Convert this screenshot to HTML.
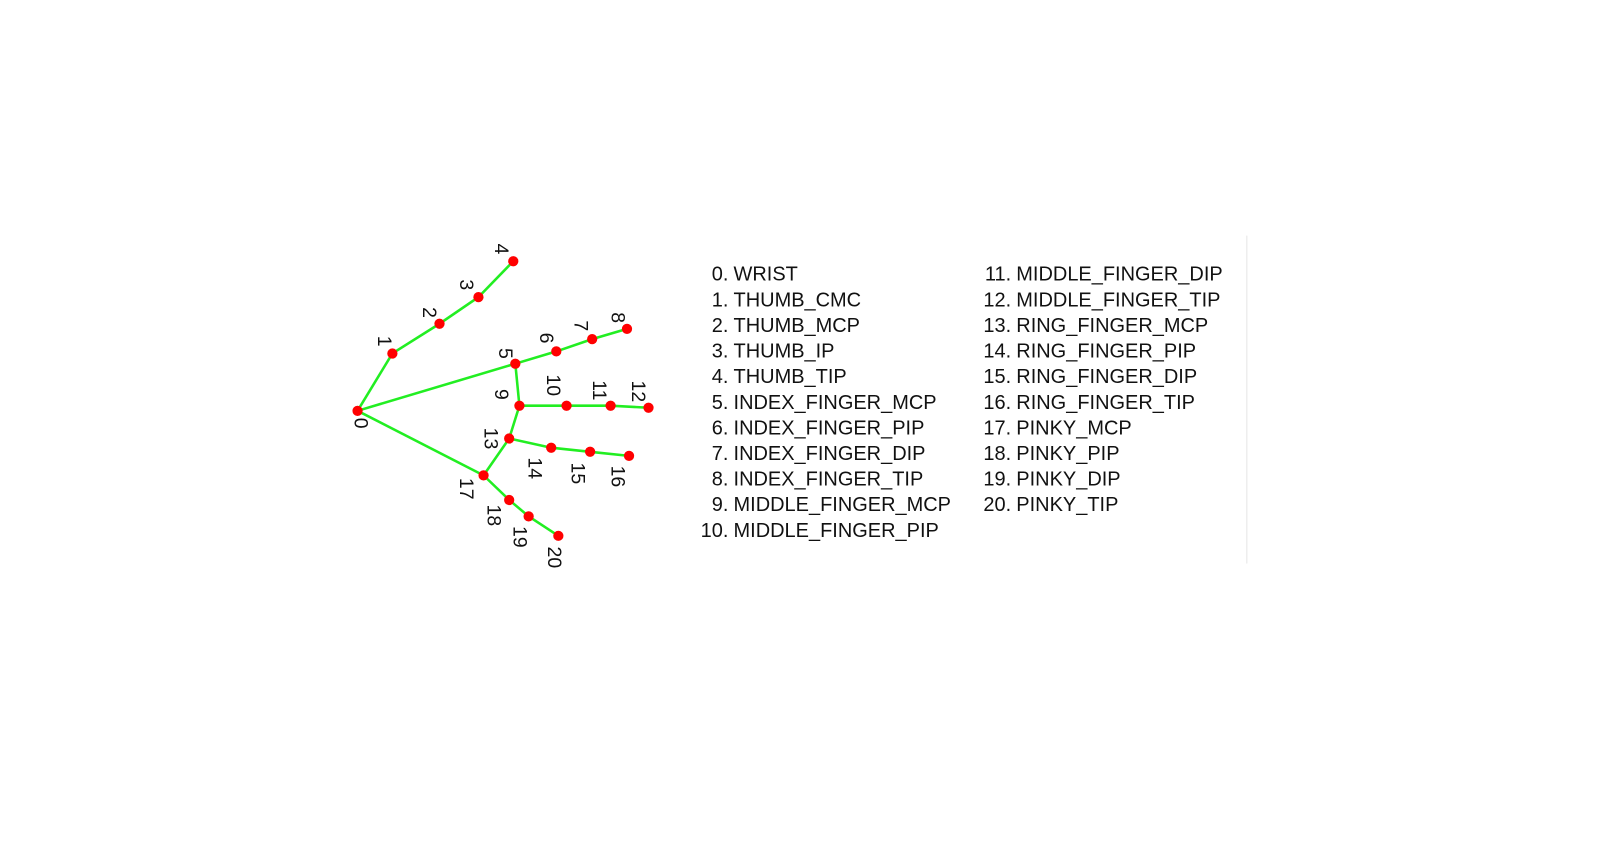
<!DOCTYPE html>
<html><head><meta charset="utf-8"><style>
html,body{margin:0;padding:0;background:#fff;width:1599px;height:851px;overflow:hidden}
svg{position:absolute;left:0;top:0}
</style></head><body>
<svg width="1599" height="851" xmlns="http://www.w3.org/2000/svg">
<g transform="scale(1.0245)">
<line x1="1217" y1="230" x2="1217" y2="550" stroke="#e6e6e6" stroke-width="1"/>
<g stroke="#22ee22" stroke-width="2.5" fill="none">
<polyline points="349,401 383,345 429,316 467,290 501,255"/>
<polyline points="349,401 503,355 543,343 578,331 612,321"/>
<polyline points="503,355 507,396 553,396 596,396 633,398"/>
<polyline points="507,396 497,428 538,437 576,441 614,445"/>
<polyline points="497,428 472,464 497,488 516,504 545,523"/>
<line x1="349" y1="401" x2="472" y2="464"/>
</g>
<g fill="#ff0000">
<circle cx="349" cy="401" r="5"/><circle cx="383" cy="345" r="5"/><circle cx="429" cy="316" r="5"/><circle cx="467" cy="290" r="5"/><circle cx="501" cy="255" r="5"/>
<circle cx="503" cy="355" r="5"/><circle cx="543" cy="343" r="5"/><circle cx="578" cy="331" r="5"/><circle cx="612" cy="321" r="5"/>
<circle cx="507" cy="396" r="5"/><circle cx="553" cy="396" r="5"/><circle cx="596" cy="396" r="5"/><circle cx="633" cy="398" r="5"/>
<circle cx="497" cy="428" r="5"/><circle cx="538" cy="437" r="5"/><circle cx="576" cy="441" r="5"/><circle cx="614" cy="445" r="5"/>
<circle cx="472" cy="464" r="5"/><circle cx="497" cy="488" r="5"/><circle cx="516" cy="504" r="5"/><circle cx="545" cy="523" r="5"/>
</g>
<g font-family="Liberation Sans, sans-serif" font-size="19" fill="#111" text-anchor="middle">
<text transform="translate(490,243) rotate(90)" dy="7">4</text>
<text transform="translate(456,278) rotate(90)" dy="7">3</text>
<text transform="translate(420,305) rotate(90)" dy="7">2</text>
<text transform="translate(376,333) rotate(90)" dy="7">1</text>
<text transform="translate(353,413) rotate(90)" dy="7">0</text>
<text transform="translate(494,345) rotate(90)" dy="7">5</text>
<text transform="translate(534,330) rotate(90)" dy="7">6</text>
<text transform="translate(568,318) rotate(90)" dy="7">7</text>
<text transform="translate(604,310) rotate(90)" dy="7">8</text>
<text transform="translate(490,385) rotate(90)" dy="7">9</text>
<text transform="translate(541,376) rotate(90)" dy="7">10</text>
<text transform="translate(586,381) rotate(90)" dy="7">11</text>
<text transform="translate(624,382) rotate(90)" dy="7">12</text>
<text transform="translate(480,428) rotate(90)" dy="7">13</text>
<text transform="translate(523,457) rotate(90)" dy="7">14</text>
<text transform="translate(565,462) rotate(90)" dy="7">15</text>
<text transform="translate(604,465) rotate(90)" dy="7">16</text>
<text transform="translate(456,477) rotate(90)" dy="7">17</text>
<text transform="translate(483,503) rotate(90)" dy="7">18</text>
<text transform="translate(508,524) rotate(90)" dy="7">19</text>
<text transform="translate(542,544) rotate(90)" dy="7">20</text>
</g>
<g font-family="Liberation Sans, sans-serif" font-size="19.5" fill="#111" transform="translate(-7,-1)">
<g text-anchor="end">
<text x="718" y="275">0.</text><text x="718" y="300">1.</text><text x="718" y="325">2.</text><text x="718" y="350">3.</text><text x="718" y="375">4.</text><text x="718" y="400">5.</text><text x="718" y="425">6.</text><text x="718" y="450">7.</text><text x="718" y="475">8.</text><text x="718" y="500">9.</text><text x="718" y="525">10.</text>
<text x="994" y="275">11.</text><text x="994" y="300">12.</text><text x="994" y="325">13.</text><text x="994" y="350">14.</text><text x="994" y="375">15.</text><text x="994" y="400">16.</text><text x="994" y="425">17.</text><text x="994" y="450">18.</text><text x="994" y="475">19.</text><text x="994" y="500">20.</text>
</g>
<g>
<text x="723" y="275">WRIST</text><text x="723" y="300">THUMB_CMC</text><text x="723" y="325">THUMB_MCP</text><text x="723" y="350">THUMB_IP</text><text x="723" y="375">THUMB_TIP</text><text x="723" y="400">INDEX_FINGER_MCP</text><text x="723" y="425">INDEX_FINGER_PIP</text><text x="723" y="450">INDEX_FINGER_DIP</text><text x="723" y="475">INDEX_FINGER_TIP</text><text x="723" y="500">MIDDLE_FINGER_MCP</text><text x="723" y="525">MIDDLE_FINGER_PIP</text>
<text x="999" y="275">MIDDLE_FINGER_DIP</text><text x="999" y="300">MIDDLE_FINGER_TIP</text><text x="999" y="325">RING_FINGER_MCP</text><text x="999" y="350">RING_FINGER_PIP</text><text x="999" y="375">RING_FINGER_DIP</text><text x="999" y="400">RING_FINGER_TIP</text><text x="999" y="425">PINKY_MCP</text><text x="999" y="450">PINKY_PIP</text><text x="999" y="475">PINKY_DIP</text><text x="999" y="500">PINKY_TIP</text>
</g>
</g>
</g>
</svg>
</body></html>
